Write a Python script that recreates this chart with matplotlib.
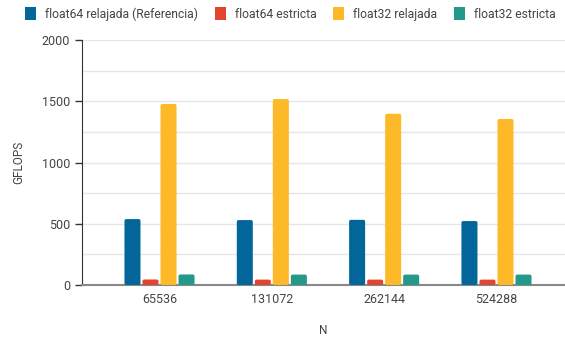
import numpy as np
import matplotlib.pyplot as plt
from matplotlib.patches import FancyBboxPatch, Patch

plt.rcParams['font.family'] = ['Roboto', 'DejaVu Sans']

# datos
sizes = ["65536", "131072", "262144", "524288"]
f64_relajada = [538, 530, 532, 522]
f64_estricta = [45, 44, 44, 44]
f32_relajada = [1478, 1518, 1398, 1355]
f32_estricta = [86, 85, 85, 85]

series = [
    ("float64 relajada (Referencia)", f64_relajada, "#03669A"),
    ("float64 estricta", f64_estricta, "#E24430"),
    ("float32 relajada", f32_relajada, "#FDB927"),
    ("float32 estricta", f32_estricta, "#23998B"),
]

fs = 9
txt = "#444444"

fig = plt.figure(figsize=(5.65, 3.39), dpi=100)
ax = fig.add_axes([82 / 565, 1 - 285 / 339, (565 - 82) / 565, (285 - 40) / 339])

x = np.arange(len(sizes))
step = 0.1604
width = 0.1426

handles = []
for i, (name, vals, color) in enumerate(series):
    bars = ax.bar(x + (i - 1.5) * step, vals, width, color=color, zorder=3)
    # esquinas redondeadas
    for b in bars:
        b.set_visible(False)
        r = FancyBboxPatch((b.get_x(), b.get_y()), b.get_width(), b.get_height(),
                           boxstyle="round,pad=0,rounding_size=0.016",
                           mutation_aspect=900, facecolor=color,
                           edgecolor="none", zorder=3)
        ax.add_patch(r)
    handles.append(Patch(facecolor=color, label=name))

ax.set_xlim(-0.69, 3.61)
ax.set_ylim(0, 2000)
ax.set_xticks(x)
ax.set_xticklabels(sizes)
ax.set_yticks([0, 500, 1000, 1500, 2000])
ax.set_yticks(np.arange(0, 2001, 250), minor=True)
ax.grid(axis="y", which="both", color="#e6e6e6", linewidth=1, zorder=0)
ax.tick_params(axis="x", length=0, pad=6, labelsize=fs, labelcolor=txt)
ax.tick_params(axis="y", which="major", length=5, width=1, color="#333333",
               pad=3.5, labelsize=fs, labelcolor=txt)
ax.tick_params(axis="y", which="minor", length=0)

for s in ["top", "right"]:
    ax.spines[s].set_visible(False)
ax.spines["left"].set_color("#333333")
ax.spines["bottom"].set_color("#888888")
ax.spines["bottom"].set_linewidth(1.5)

ax.set_ylabel("GFLOPS", fontsize=8.5, color=txt, labelpad=12)
ax.set_xlabel("N", fontsize=8.5, color=txt, labelpad=13)

fig.legend(handles=handles, loc="center", bbox_to_anchor=(0.5 + 8 / 565, 1 - 14 / 339),
           ncol=4, frameon=False, fontsize=8.7, handlelength=0.9, handleheight=1.3,
           handletextpad=0.75, columnspacing=1.4, labelcolor=txt)

fig.savefig("out.png", dpi=100)
